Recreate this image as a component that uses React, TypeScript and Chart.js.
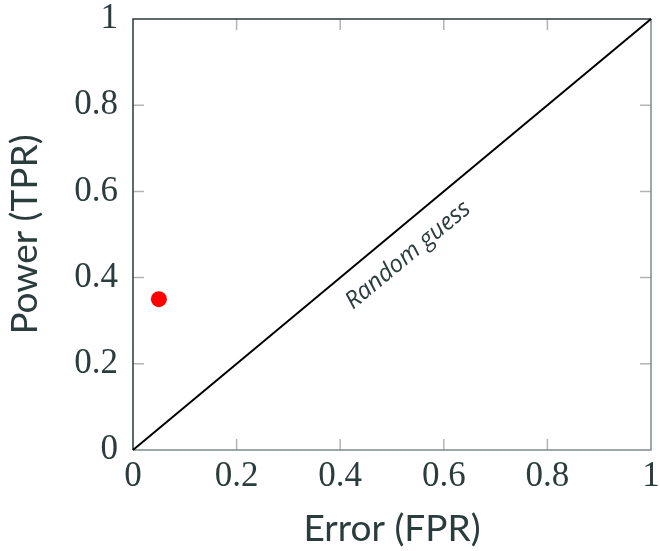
import React, { useEffect, useRef } from "react";
import { Chart, registerables } from "chart.js";

Chart.register(...registerables);

// ---- data ----
const diagonalX = [0, 1];
const diagonalY = [0, 1];
const pointX = [0.05];
const pointY = [0.35];
const tickValues = [0, 0.2, 0.4, 0.6, 0.8, 1];
const tickLabels = ["0", "0.2", "0.4", "0.6", "0.8", "1"];
const innerTickValues = [0.2, 0.4, 0.6, 0.8];
const xTitle = "Error (FPR)";
const yTitle = "Power (TPR)";
const guessLabel = "Random guess";
const guessLabelX = 0.531;
const guessLabelY = 0.452;

const TEXT = "#2b3c3c";
const DARK = "#2b3838";
const GRAY = "#7f8b8b";
const TICK = "#b4b4b4";

const framePlugin = {
  id: "frame",
  beforeDatasetsDraw(chart: any) {
    const { ctx, chartArea: a, scales } = chart;
    const xs = scales.x;
    const ys = scales.y;
    ctx.save();
    ctx.lineWidth = 1.5;
    ctx.strokeStyle = TICK;
    const L = 11;
    innerTickValues.forEach((v) => {
      const px = xs.getPixelForValue(v);
      const py = ys.getPixelForValue(v);
      ctx.beginPath();
      ctx.moveTo(px, a.bottom);
      ctx.lineTo(px, a.bottom - L);
      ctx.moveTo(px, a.top);
      ctx.lineTo(px, a.top + L);
      ctx.moveTo(a.left, py);
      ctx.lineTo(a.left + L, py);
      ctx.moveTo(a.right, py);
      ctx.lineTo(a.right - L, py);
      ctx.stroke();
    });
    ctx.lineWidth = 1.5;
    ctx.strokeStyle = GRAY;
    ctx.beginPath();
    ctx.moveTo(a.left, a.bottom);
    ctx.lineTo(a.right, a.bottom);
    ctx.lineTo(a.right, a.top);
    ctx.stroke();
    ctx.strokeStyle = DARK;
    ctx.beginPath();
    ctx.moveTo(a.left, a.bottom);
    ctx.lineTo(a.left, a.top);
    ctx.lineTo(a.right, a.top);
    ctx.stroke();
    ctx.restore();
  },
  afterDatasetsDraw(chart: any) {
    const { ctx, scales } = chart;
    const xs = scales.x;
    const ys = scales.y;
    const dx = xs.getPixelForValue(diagonalX[1]) - xs.getPixelForValue(diagonalX[0]);
    const dy = ys.getPixelForValue(diagonalY[1]) - ys.getPixelForValue(diagonalY[0]);
    const ang = Math.atan2(dy, dx);
    ctx.save();
    ctx.translate(xs.getPixelForValue(guessLabelX), ys.getPixelForValue(guessLabelY));
    ctx.rotate(ang);
    ctx.font = "italic 24px 'Open Sans'";
    ctx.fillStyle = TEXT;
    ctx.textAlign = "center";
    ctx.textBaseline = "middle";
    ctx.fillText(guessLabel, 0, 0);
    ctx.restore();
  },
};

const zeroPad = (s: any) => {
  s.paddingTop = 0;
  s.paddingBottom = 0;
  s.paddingLeft = 0;
  s.paddingRight = 0;
};

export default function App() {
  const ref = useRef<HTMLCanvasElement>(null);
  useEffect(() => {
    document.body.style.margin = "0";
    const tickFont = { family: "'Liberation Serif'", size: 35 };
    const titleFont = { family: "Lato", size: 37, lineHeight: 1.2 };
    const chart = new Chart(ref.current as HTMLCanvasElement, {
      type: "scatter",
      data: {
        datasets: [
          {
            type: "line",
            data: diagonalX.map((x, i) => ({ x, y: diagonalY[i] })),
            borderColor: "#000000",
            borderWidth: 2,
            pointRadius: 0,
            fill: false,
            clip: false as any,
          } as any,
          {
            data: pointX.map((x, i) => ({ x, y: pointY[i] })),
            backgroundColor: "#ff0000",
            borderColor: "#ff0000",
            pointRadius: 8,
            borderWidth: 0,
          },
        ],
      },
      options: {
        responsive: false,
        animation: false,
        devicePixelRatio: 1,
        layout: { padding: { top: 19, right: 9, left: 0, bottom: 0 } },
        plugins: { legend: { display: false }, tooltip: { enabled: false } },
        scales: {
          x: {
            type: "linear",
            min: 0,
            max: 1,
            position: "bottom",
            border: { display: false },
            grid: { display: false, drawTicks: false },
            afterBuildTicks: (s: any) => {
              s.ticks = tickValues.map((v) => ({ value: v }));
            },
            afterFit: (s: any) => {
              s.height = 101;
              zeroPad(s);
            },
            ticks: {
              autoSkip: false,
              maxRotation: 0,
              padding: 6,
              color: TEXT,
              font: tickFont,
              callback: (_v: any, i: number) => tickLabels[i],
            },
            title: {
              display: true,
              text: xTitle,
              color: TEXT,
              font: titleFont,
              padding: { top: 0, bottom: 0 },
            },
          },
          y: {
            type: "linear",
            min: 0,
            max: 1,
            position: "left",
            border: { display: false },
            grid: { display: false, drawTicks: false },
            afterBuildTicks: (s: any) => {
              s.ticks = tickValues.map((v) => ({ value: v }));
            },
            afterFit: (s: any) => {
              s.width = 133;
              zeroPad(s);
            },
            ticks: {
              autoSkip: false,
              padding: 15,
              color: TEXT,
              font: tickFont,
              callback: (_v: any, i: number) => tickLabels[i],
            },
            title: {
              display: true,
              text: yTitle,
              color: TEXT,
              font: titleFont,
              padding: { top: 3, bottom: 0 },
            },
          },
        },
      } as any,
      plugins: [framePlugin],
    });
    return () => chart.destroy();
  }, []);
  return (
    <div style={{ width: 660, height: 551 }}>
      <canvas ref={ref} width={660} height={551} />
    </div>
  );
}
